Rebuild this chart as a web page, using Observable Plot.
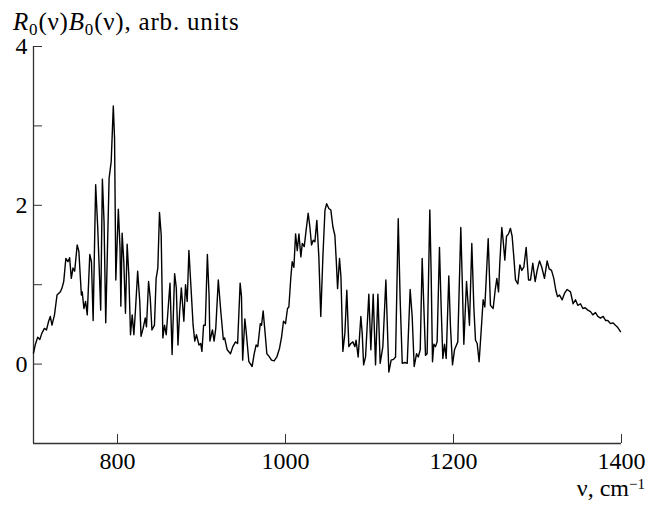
<!DOCTYPE html>
<html>
<head>
<meta charset="utf-8">
<script src="https://cdn.jsdelivr.net/npm/d3@7"></script>
<script src="https://cdn.jsdelivr.net/npm/@observablehq/plot@0.6"></script>
<style>
  html, body { margin: 0; padding: 0; background: white; }
</style>
</head>
<body>
<div id="chart"></div>
<script>
// wavenumber (cm^-1)
const nu = [
  700, 702, 705, 707.5, 710, 713, 715.5, 718, 720, 722, 725, 728, 732, 734, 736, 738.5, 741, 743, 745, 747, 749,
  752, 754, 757, 758, 760, 762, 764, 767, 769, 771, 774, 776.5, 780, 782, 784, 786, 790, 792.5, 795, 796.5,
  798, 801, 803, 804, 805.5, 807.5, 809.5, 811.5, 813.5, 815.5, 817.5, 819.5, 821.5, 824, 826.5, 828, 830.5,
  833, 834.5, 837, 839, 841, 844, 846, 848, 850, 852, 854, 856, 858, 860, 862.5, 865, 868, 870, 872, 874,
  876, 879, 881, 883, 885, 888, 890, 892, 894, 897, 899, 900.5, 902.5, 904.5, 907, 909, 910, 913, 915, 917,
  920, 923, 926, 927.5,
  930.6, 934.5, 937.3, 940.5, 943, 946, 947.6, 949, 951.6, 953, 956.4, 960.3, 962.7, 965, 967, 970, 971.5,
  973.4, 975.4, 977.8, 980.2, 983.4, 986.5, 989.7, 992.9, 995.3, 997.6, 1000, 1002.4, 1004, 1006.4, 1008,
  1010, 1012, 1014, 1016, 1018.3, 1020, 1022.3, 1024.6, 1027, 1029, 1031, 1033, 1035, 1037.3, 1039.7, 1042,
  1044.5, 1047, 1049, 1051.6, 1054, 1056.4, 1058.8, 1060.4, 1062, 1064.3, 1066, 1068.3, 1070.7, 1073, 1075.4,
  1077.8, 1080.2, 1082.6, 1084, 1086.5, 1089.7, 1091.3, 1093, 1095.3, 1099.2, 1101.6, 1104.4, 1107.2, 1110,
  1112.7, 1115.9, 1119.5, 1123, 1125.8, 1128.6, 1131, 1134.2, 1136.5, 1139, 1142, 1144.9, 1148.4, 1150.8,
  1153.2, 1156, 1158, 1160.4,
  1162.7, 1164.7, 1166.7, 1168.6, 1171.8, 1173.4, 1175, 1176.6, 1178.6, 1180.5, 1183.3, 1185.3, 1187.3,
  1189.3, 1191.3, 1194.4, 1196.4, 1198.8, 1201.2, 1205.1, 1208.7, 1210.7, 1212.3, 1215.5, 1217, 1219,
  1221.8, 1224.2, 1226.2, 1228.2, 1230.5, 1233, 1235.3, 1237.3, 1241.3, 1244, 1247.2, 1249.6, 1251.6,
  1253.6, 1255.1, 1257.5, 1259.1, 1261.1, 1263.1, 1265.5, 1267.8, 1269.8, 1271.8, 1273.8, 1276.6, 1279,
  1281.3, 1283.7, 1286.5, 1289.3, 1291.7, 1294.4, 1297.2, 1299.6, 1302.4, 1305.1, 1308.3, 1311.5, 1313.9,
  1316.7, 1319.4, 1321.8, 1323.8, 1326.2, 1329.4, 1332.1, 1335.3, 1339.3, 1342.4, 1345.2, 1348, 1351.2,
  1354, 1356.7, 1359.9, 1363.1, 1365.9, 1369, 1371.8, 1375, 1378.2, 1381, 1383.7, 1386.9, 1389.7, 1392.8,
  1395.6, 1398.8
];
// R0(nu)B0(nu), arb. units
const value = [
  0.14, 0.24, 0.34, 0.31, 0.39, 0.45, 0.43, 0.54, 0.60, 0.49, 0.62, 0.87, 0.91, 0.96, 1.04, 1.33, 1.29, 1.34, 1.08, 1.21, 1.17,
  1.50, 1.42, 0.87, 0.91, 0.70, 0.79, 0.62, 1.38, 1.29, 0.55, 2.26, 1.71, 0.68, 2.33, 1.79, 0.52, 2.34, 2.55, 3.25, 2.84,
  1.06, 1.95, 1.46, 0.73, 1.65, 1.29, 0.64, 1.51, 1.12, 0.37, 0.62, 0.37, 0.70, 1.17, 0.79, 0.35, 0.45,
  0.58, 0.47, 1.04, 0.83, 0.43, 0.49, 1.08, 1.21, 1.91, 1.63, 0.33, 0.49, 0.37, 0.66, 1.02, 0.12, 1.14, 0.96, 0.24, 0.66,
  0.96, 0.54, 1.00, 0.79, 1.43, 0.87, 0.49, 0.29, 0.37, 0.24, 0.26, 0.16, 0.49, 0.49, 1.38, 0.87, 0.29, 0.43, 0.29, 0.45,
  1.06, 0.66, 0.31, 0.33,
  0.18, 0.13, 0.22, 0.28, 0.26, 1.02, 0.85, 0.05, 0.57, 0.43, 0.03, -0.03, 0.13, 0.24, 0.22, 0.51, 0.49,
  0.67, 0.43, 0.13, 0.10, 0.05, 0.04, 0.09, 0.20, 0.34, 0.54, 0.51, 0.70, 0.72, 1.10, 1.29,
  1.22, 1.64, 1.43, 1.64, 1.35, 1.52, 1.48, 1.69, 1.90, 1.73, 1.50, 1.56, 1.54, 1.81, 1.35, 0.60,
  1.35, 1.94, 2.02, 1.96, 1.94, 1.73, 1.62, 1.31, 0.95, 1.33, 1.10, 0.16, 0.39, 0.93, 0.22,
  0.26, 0.28, 0.22, 0.30, 0.09, 0.60, 0.39, -0.01, 0.09, 0.88, 0.18, 0.88, -0.01, 0.88,
  0.01, 0.22, 1.06, -0.10, 0.05, 0.06, 0.09, 1.83, 0.81, 0.01, 0.02, 0.01, 0.94, 0.60,
  -0.03, 0.13, 0.09, 0.18,
  1.33, 0.72, 0.11, 0.13, 1.94, 1.14, 0.03, 0.25, 0.22, 0.28, 1.47, 0.72, 0.07,
  0.25, 0.07, 1.11, 0.47, -0.01, 0.18, 0.28, 1.72, 0.93, 0.25, 1.04, 0.81, 0.49,
  1.52, 0.72, 0.30, 0.26, 0.03, 0.43, 0.81, 0.72, 1.58, 0.74, 0.70, 0.93, 1.08,
  0.91, 1.27, 1.72, 1.56, 1.31, 1.61, 1.64, 1.71, 1.61, 1.35, 1.06, 1.01, 1.25,
  1.18, 1.22, 1.47, 1.06, 1.06, 1.27, 1.04, 1.18, 1.30, 1.22, 1.08, 1.30, 1.20,
  1.18, 1.08, 0.93, 0.85, 0.87, 0.81, 0.89, 0.94, 0.91, 0.76, 0.81, 0.74, 0.76,
  0.70, 0.71, 0.68, 0.66, 0.62, 0.65, 0.60, 0.58, 0.60, 0.55, 0.55, 0.51, 0.52, 0.49,
  0.46, 0.41
];
const xTicks = [800, 1000, 1200, 1400];
const yTicks = [-1, 0, 1, 2, 3, 4];
const yLabelTicks = [0, 2, 4];
const xDomain = [700, 1400];
const yDomain = [-1, 4];

const data = nu.map((n, i) => ({nu: n, v: value[i]}));
const axisColor = "#333";
const serif = "'Liberation Serif', 'Times New Roman', serif";
const plain = d => String(d);

const svg = Plot.plot({
  width: 656,
  height: 506,
  marginLeft: 33,
  marginRight: 35,
  marginTop: 46,
  marginBottom: 63,
  x: {domain: xDomain, label: null},
  y: {domain: yDomain, label: null},
  style: {fontFamily: serif, fontSize: "24px", color: "black", background: "white"},
  marks: [
    Plot.ruleX([xDomain[0]], {stroke: axisColor, strokeWidth: 1.3}),
    Plot.ruleY([yDomain[0]], {stroke: axisColor, strokeWidth: 1.3}),
    Plot.axisX(xTicks, {tickSize: -9, fill: "none", stroke: axisColor, label: null}),
    Plot.axisX(xTicks, {tickSize: 0, tickPadding: 8, fill: "black", tickFormat: plain, label: null}),
    Plot.axisY(yTicks, {tickSize: -9, fill: "none", stroke: axisColor, label: null}),
    Plot.axisY(yLabelTicks, {tickSize: 0, tickPadding: 6, fill: "black", tickFormat: plain, label: null}),
    Plot.line(data, {x: "nu", y: "v", stroke: "black", strokeWidth: 1.4})
  ]
});

const s = d3.select(svg);
const title = s.append("text")
  .attr("x", 13).attr("y", 30)
  .attr("text-anchor", "start")
  .attr("font-family", serif)
  .attr("font-size", 25).attr("letter-spacing", 0.8).attr("fill", "black");
title.append("tspan").attr("font-style", "italic").text("R");
title.append("tspan").attr("font-size", 17).attr("dy", 5).text("0");
title.append("tspan").attr("dy", -5).text("(ν)");
title.append("tspan").attr("font-style", "italic").text("B");
title.append("tspan").attr("font-size", 17).attr("dy", 5).text("0");
title.append("tspan").attr("dy", -5).text("(ν), arb. units");

const xl = s.append("text")
  .attr("x", 645).attr("y", 496)
  .attr("text-anchor", "end")
  .attr("font-family", serif)
  .attr("font-size", 24).attr("fill", "black");
xl.append("tspan").text("ν, cm");
xl.append("tspan").attr("font-size", 15).attr("dy", -7).text("−1");

document.getElementById("chart").appendChild(svg);
</script>
</body>
</html>
